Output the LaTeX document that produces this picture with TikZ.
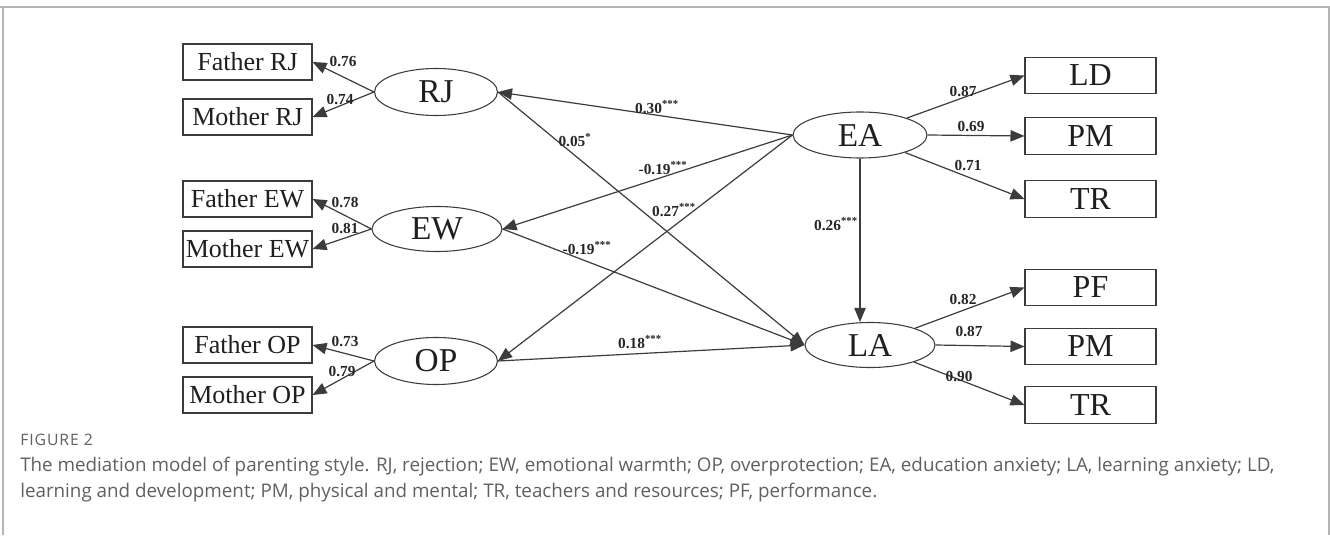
\documentclass[tikz,border=0pt]{standalone}
\usepackage{fontspec}
\setmainfont{Liberation Serif}
\newfontfamily\capfont{Open Sans}
\newfontfamily\figfont[LetterSpace=6]{Open Sans}
\usetikzlibrary{arrows.meta,shapes.geometric}
\definecolor{edgec}{HTML}{3C3C3C}
\definecolor{capgray}{HTML}{606060}
\definecolor{framegray}{HTML}{B4B4B4}
\begin{document}
\begin{tikzpicture}[x=0.75pt,y=-0.75pt,
 obs/.style={draw=edgec, line width=0.8pt, minimum width=96.75pt, minimum height=27pt, inner sep=0pt, text=black!88, font=\fontsize{19.5}{22}\selectfont},
 obsr/.style={obs, minimum width=98.25pt, minimum height=27.5pt, font=\fontsize{24}{26}\selectfont},
 lat/.style={draw=edgec, line width=0.8pt, ellipse, inner sep=0pt, text=black!88, font=\fontsize{25}{27}\selectfont},
 arr/.style={draw=edgec, line width=0.9pt, -{Triangle[length=10.5pt,width=8.5pt]}},
 coef/.style={font=\fontsize{11.5}{12}\selectfont\bfseries, inner sep=0pt, text=black!85},
 captxt/.style={anchor=west, inner sep=0pt, text=capgray, font=\capfont\fontsize{14.1}{16}\selectfont},
]
\useasboundingbox (0,0) rectangle (1330,535);
\fill[white] (0,0) rectangle (1330,535);
\draw[framegray, line width=1.5pt] (0,7) -- (1330,7);
\draw[framegray, line width=0.9pt] (3,7) -- (3,535);
\draw[framegray, line width=0.9pt] (1329,7) -- (1329,535);

% observed indicators (left)
\node[obs] (fRJ) at (247.5,62) {Father RJ};
\node[obs] (mRJ) at (247.5,117) {Mother RJ};
\node[obs] (fEW) at (247.5,199) {Father EW};
\node[obs] (mEW) at (247.5,249) {Mother EW};
\node[obs] (fOP) at (247.5,345) {Father OP};
\node[obs] (mOP) at (247.5,395) {Mother OP};

% latent variables
\node[lat, minimum width=92.25pt, minimum height=35.25pt] (RJ) at (436,92) {RJ};
\node[lat, minimum width=97.5pt, minimum height=33.75pt] (EW) at (437,229) {EW};
\node[lat, minimum width=92.25pt, minimum height=35.25pt] (OP) at (436,361) {OP};
\node[lat, minimum width=100.5pt, minimum height=34.5pt] (EA) at (860,135) {EA};
\node[lat, minimum width=97.5pt, minimum height=33.75pt] (LA) at (870,345) {LA};

% observed indicators (right)
\node[obsr] (LD) at (1090.5,75.5) {LD};
\node[obsr] (PMa) at (1090.5,136) {PM};
\node[obsr] (TRa) at (1090.5,199) {TR};
\node[obsr] (PF) at (1090.5,287.5) {PF};
\node[obsr] (PMb) at (1090.5,346.5) {PM};
\node[obsr] (TRb) at (1090.5,405) {TR};

% measurement paths (left)
\draw[arr] (RJ.west) -- (fRJ.east);
\draw[arr] (RJ.west) -- (mRJ.east);
\draw[arr] (EW.west) -- (fEW.east);
\draw[arr] (EW.west) -- (mEW.east);
\draw[arr] (OP.west) -- (fOP.east);
\draw[arr] (OP.west) -- (mOP.east);

% measurement paths (right)
\draw[arr] (EA) -- (LD.west);
\draw[arr] (EA.east) -- (PMa.west);
\draw[arr] (EA) -- (TRa.west);
\draw[arr] (LA) -- (PF.west);
\draw[arr] (LA.east) -- (PMb.west);
\draw[arr] (LA) -- (TRb.west);

% structural paths
\draw[arr] (EA.west) -- (RJ.east);
\draw[arr] (EA.west) -- (EW.east);
\draw[arr] (EA.west) -- (OP.east);
\draw[arr] (RJ.east) -- (LA.west);
\draw[arr] (EW.east) -- (LA.west);
\draw[arr] (OP.east) -- (LA.west);
\draw[arr] (EA.south) -- (EA.south |- LA.north);

% coefficients
\node[coef] (c1) at (343,62) {0.76};
\node[coef] (c2) at (340,100) {0.74};
\node[coef] (c3) at (345,203) {0.78};
\node[coef] (c4) at (345,229) {0.81};
\node[coef] (c5) at (345,342) {0.73};
\node[coef] (c6) at (342,372) {0.79};
\node[coef] (c7) at (657,107) {0.30\textsuperscript{***}};
\node[coef] (c8) at (575,140) {0.05\textsuperscript{*}};
\node[coef] (c9) at (663,168) {-0.19\textsuperscript{***}};
\node[coef] (c10) at (674,210) {0.27\textsuperscript{***}};
\node[coef] (c11) at (587,248) {-0.19\textsuperscript{***}};
\node[coef] (c12) at (640,342) {0.18\textsuperscript{***}};
\node[coef] (c13) at (836,224) {0.26\textsuperscript{***}};
\node[coef] (c14) at (963,92) {0.87};
\node[coef] (c15) at (971,127) {0.69};
\node[coef] (c16) at (968,166) {0.71};
\node[coef] (c17) at (963,300) {0.82};
\node[coef] (c18) at (969,332) {0.87};
\node[coef] (c19) at (959,377) {0.90};

% caption
\node[captxt, font=\figfont\fontsize{11.8}{13}\selectfont] (figlab) at (20,440) {FIGURE 2};
\node[captxt] (cap1) at (20,467) {The mediation model of parenting style. RJ, rejection; EW, emotional warmth; OP, overprotection; EA, education anxiety; LA, learning anxiety; LD,};
\node[captxt] (cap2) at (20,493) {learning and development; PM, physical and mental; TR, teachers and resources; PF, performance.};
\end{tikzpicture}
\end{document}
